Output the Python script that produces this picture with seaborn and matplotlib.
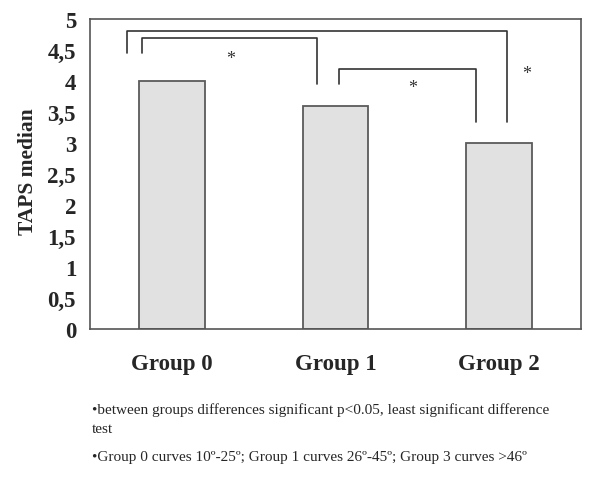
import numpy as np
import pandas as pd
import matplotlib
matplotlib.use("Agg")
import matplotlib.pyplot as plt
import seaborn as sns

# data
groups = ["Group 0", "Group 1", "Group 2"]
taps_median = [4.0, 3.6, 3.0]
y_ticks = [0, 0.5, 1, 1.5, 2, 2.5, 3, 3.5, 4, 4.5, 5]
y_tick_labels = ["0", "0,5", "1", "1,5", "2", "2,5", "3", "3,5", "4", "4,5", "5"]

# significance brackets: (x_left, x_right, y_top, y_left_end, y_right_end, star_x, star_y)
brackets = [
    (-0.18, 0.887, 4.69, 4.45, 3.95, 0.36, 4.37),
    (1.02, 1.86, 4.19, 3.95, 3.34, 1.47, 3.89),
    (-0.275, 2.05, 4.81, 4.45, 3.34, 2.17, 4.13),
]

notes = [
    "\u2022between groups differences significant p<0.05, least significant difference\ntest",
    "\u2022Group 0 curves 10\u00ba-25\u00ba; Group 1 curves 26\u00ba-45\u00ba; Group 3 curves >46\u00ba",
]

sns.set_style("white")
plt.rcParams["font.family"] = ["Liberation Serif", "DejaVu Serif"]

df = pd.DataFrame({"group": groups, "taps": taps_median})

fig = plt.figure(figsize=(6.0, 4.81), dpi=100)
ax = fig.add_axes([0.15, 0.314, 0.818, 0.644])

sns.barplot(data=df, x="group", y="taps", color="#e1e1e1", width=0.4,
            edgecolor="#5a5a5a", linewidth=1.3, saturation=1, ax=ax)

ax.set_xlim(-0.5, 2.5)
ax.set_ylim(0, 5)
ax.set_yticks(y_ticks)
ax.set_yticklabels(y_tick_labels, fontsize=16.5, fontweight="bold")
ax.set_xticks(range(len(groups)))
ax.set_xticklabels(groups, fontsize=16.5, fontweight="bold")
ax.set_xticks([0.5, 1.5, 2.5], minor=True)
ax.tick_params(axis="x", which="major", length=0, pad=17)
ax.tick_params(axis="x", which="minor", length=6, width=1, color="#555555", direction="out")
ax.tick_params(axis="y", length=5, width=1, color="#555555", direction="out", pad=5)
ax.set_xlabel("")
ax.set_ylabel("TAPS median", fontsize=15.5, fontweight="bold")
ax.yaxis.set_label_coords(-0.106, 0.51)
for s in ax.spines.values():
    s.set_color("#555555")
    s.set_linewidth(1.2)
    s.set_visible(True)

for xl, xr, yt, yl, yr, sx, sy in brackets:
    ax.plot([xl, xl, xr, xr], [yl, yt, yt, yr], color="#333333", lw=1.2, clip_on=False)
    ax.text(sx, sy, "*", ha="center", va="center", fontsize=13, color="#333333")

fig.text(92 / 600, 1 - 403 / 481, notes[0], fontsize=11, va="top", ha="left", linespacing=1.65)
fig.text(92 / 600, 1 - 451 / 481, notes[1], fontsize=11, va="top", ha="left")

fig.savefig("out.png", dpi=100)
